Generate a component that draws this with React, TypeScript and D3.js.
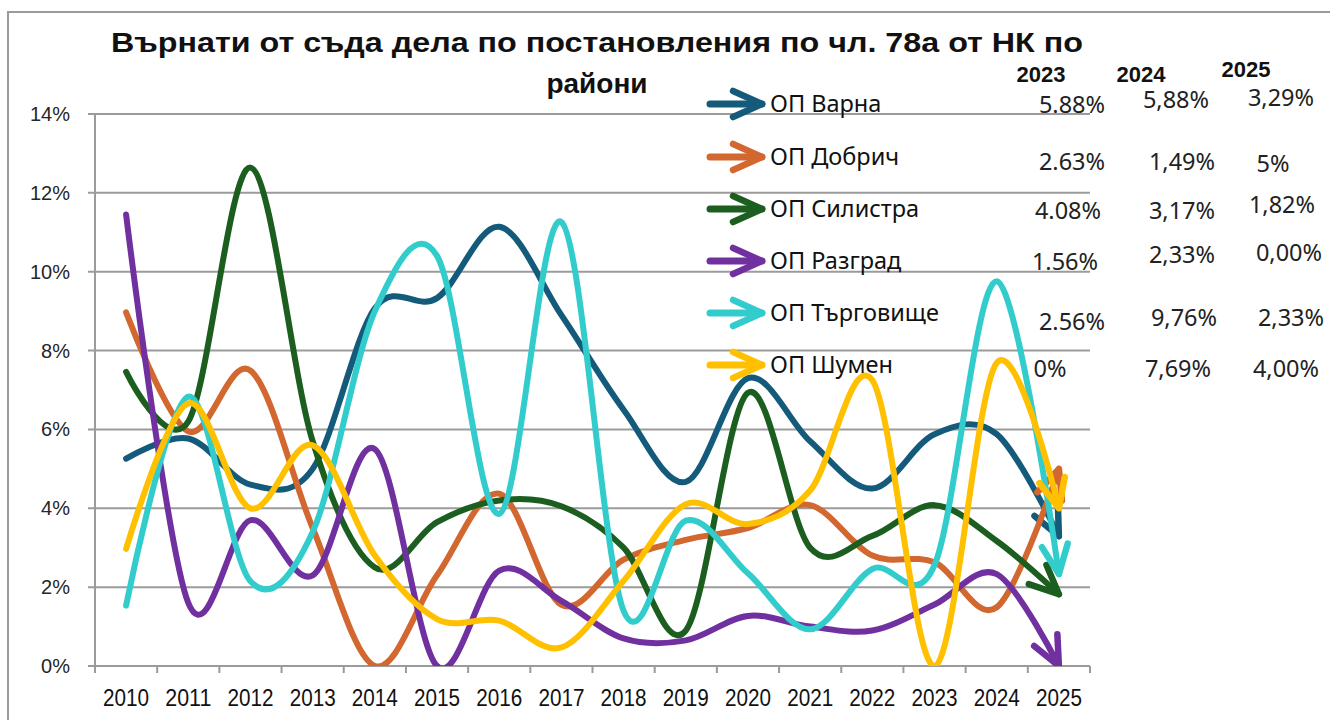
import React, { useEffect, useRef } from 'react';
import * as d3 from 'd3';

// годините по оста X
const years = ['2010', '2011', '2012', '2013', '2014', '2015', '2016', '2017', '2018', '2019', '2020', '2021', '2022', '2023', '2024', '2025'];

const seriesNames = ['ОП Варна', 'ОП Добрич', 'ОП Силистра', 'ОП Разград', 'ОП Търговище', 'ОП Шумен'];
const seriesColors = ['#145A7A', '#D2672F', '#1B5E20', '#7030A0', '#33CCCC', '#FFC000'];

// стойности в %
const varna = [5.26, 5.77, 4.6, 5.0, 9.07, 9.33, 11.14, 8.9, 6.5, 4.67, 7.3, 5.7, 4.5, 5.88, 5.88, 3.29];
const dobrich = [8.97, 5.95, 7.49, 3.5, 0, 2.3, 4.37, 1.55, 2.7, 3.2, 3.5, 4.08, 2.8, 2.63, 1.49, 5];
const silistra = [7.46, 6.2, 12.64, 5.7, 2.5, 3.65, 4.2, 4.05, 3.0, 0.9, 6.93, 3.0, 3.3, 4.08, 3.17, 1.82];
const razgrad = [11.45, 1.6, 3.7, 2.3, 5.5, 0, 2.42, 1.65, 0.7, 0.65, 1.27, 1.0, 0.9, 1.56, 2.33, 0];
const targovishte = [1.53, 6.83, 2.15, 3.4, 9.0, 10.4, 3.86, 11.26, 1.4, 3.69, 2.35, 0.93, 2.46, 2.56, 9.76, 2.33];
const shumen = [2.97, 6.66, 4.0, 5.6, 2.8, 1.19, 1.15, 0.47, 2.16, 4.1, 3.6, 4.45, 7.25, 0, 7.69, 4.0];

const yTicks = [0, 2, 4, 6, 8, 10, 12, 14];

// таблицата вдясно
const tableYears = ['2023', '2024', '2025'];
const tableRows = [
  ['5.88%', '5,88%', '3,29%'],
  ['2.63%', '1,49%', '5%'],
  ['4.08%', '3,17%', '1,82%'],
  ['1.56%', '2,33%', '0,00%'],
  ['2.56%', '9,76%', '2,33%'],
  ['0%', '7,69%', '4,00%'],
];

const title1 = 'Върнати от съда дела по постановления по чл. 78а от НК по';
const title2 = 'райони';

export default function App() {
  const svgRef = useRef<SVGSVGElement>(null);

  useEffect(() => {
    const svg = d3.select(svgRef.current);
    svg.selectAll('*').remove();

    const series = [varna, dobrich, silistra, razgrad, targovishte, shumen];
    const left = 95, right = 1090, top = 114, bottom = 666;

    const x = d3.scaleBand().domain(years).range([left, right]);
    const cx = (yr: string) => (x(yr) as number) + x.bandwidth() / 2;
    const y = d3.scaleLinear().domain([0, 14]).range([bottom, top]);

    const defs = svg.append('defs');
    defs.append('clipPath').attr('id', 'plotclip')
      .append('rect').attr('x', left).attr('y', 90).attr('width', right - left).attr('height', bottom - 90);

    // отворена стрелка в края на всяка линия
    seriesColors.forEach((c, i) => {
      defs.append('marker')
        .attr('id', 'arr' + i)
        .attr('markerUnits', 'userSpaceOnUse')
        .attr('viewBox', '-36 -20 42 40')
        .attr('markerWidth', 42).attr('markerHeight', 40)
        .attr('refX', 0).attr('refY', 0)
        .attr('orient', 'auto')
        .append('path')
        .attr('d', 'M-29,-13L0,0L-29,13')
        .attr('fill', 'none').attr('stroke', c).attr('stroke-width', 6.5)
        .attr('stroke-linecap', 'round').attr('stroke-linejoin', 'round');
    });

    // рамка
    svg.append('rect').attr('x', 8).attr('y', 12).attr('width', 1340).attr('height', 730)
      .attr('fill', 'none').attr('stroke', '#9a9a9a').attr('stroke-width', 2);

    // мрежа
    svg.append('g').selectAll('line').data(yTicks).enter().append('line')
      .attr('x1', left - 7).attr('x2', right)
      .attr('y1', d => y(d)).attr('y2', d => y(d))
      .attr('stroke', '#9b9b9b').attr('stroke-width', 2);

    svg.append('line').attr('x1', left).attr('x2', left).attr('y1', top).attr('y2', bottom + 7)
      .attr('stroke', '#9b9b9b').attr('stroke-width', 2);

    const bounds = years.map(yr => x(yr) as number).concat([right]);
    svg.append('g').selectAll('line').data(bounds).enter().append('line')
      .attr('x1', d => d).attr('x2', d => d).attr('y1', bottom).attr('y2', bottom + 7)
      .attr('stroke', '#9b9b9b').attr('stroke-width', 2);

    svg.append('g').selectAll('text').data(yTicks).enter().append('text')
      .attr('x', 70).attr('y', d => y(d) + 7)
      .attr('text-anchor', 'end')
      .attr('font-family', 'Liberation Sans, Arial, sans-serif').attr('font-size', 20)
      .attr('fill', '#262626')
      .text(d => d + '%');

    svg.append('g').selectAll('text').data(years).enter().append('text')
      .attr('x', d => cx(d)).attr('y', 706)
      .attr('text-anchor', 'middle')
      .attr('font-family', 'Liberation Sans, Arial, sans-serif').attr('font-size', 23)
      .attr('textLength', 46).attr('lengthAdjust', 'spacingAndGlyphs')
      .attr('fill', '#111')
      .text(d => d);

    // линиите
    const line = d3.line<number>()
      .x((_, i) => cx(years[i]))
      .y(d => y(d))
      .curve(d3.curveCatmullRom.alpha(0));

    const lg = svg.append('g').attr('clip-path', 'url(#plotclip)');
    series.forEach((s, i) => {
      lg.append('path')
        .attr('d', line(s) as string)
        .attr('fill', 'none')
        .attr('stroke', seriesColors[i])
        .attr('stroke-width', 6)
        .attr('stroke-linecap', 'round')
        .attr('marker-end', `url(#arr${i})`);
    });

    // заглавие
    svg.append('text').attr('x', 597).attr('y', 52).attr('text-anchor', 'middle')
      .attr('font-family', 'Liberation Sans, Arial, sans-serif').attr('font-weight', 'bold')
      .attr('font-size', 28).attr('textLength', 972).attr('lengthAdjust', 'spacingAndGlyphs')
      .attr('fill', '#111').text(title1);
    svg.append('text').attr('x', 597).attr('y', 93).attr('text-anchor', 'middle')
      .attr('font-family', 'Liberation Sans, Arial, sans-serif').attr('font-weight', 'bold')
      .attr('font-size', 28).attr('fill', '#111').text(title2);

    // легенда
    const legY = [104, 157, 209, 261, 313, 365];
    seriesNames.forEach((n, i) => {
      svg.append('path')
        .attr('d', `M710,${legY[i]}L762,${legY[i]}`)
        .attr('stroke', seriesColors[i]).attr('stroke-width', 7)
        .attr('stroke-linecap', 'round').attr('fill', 'none')
        .attr('marker-end', `url(#arr${i})`);
      svg.append('text').attr('x', 770).attr('y', legY[i] + 8)
        .attr('font-family', 'Noto Sans, sans-serif').attr('font-size', 23.5)
        .attr('fill', '#111').text(n);
    });

    // таблица
    const headPos = [[1041, 82], [1141, 82], [1246, 77]];
    tableYears.forEach((t, j) => {
      svg.append('text').attr('x', headPos[j][0]).attr('y', headPos[j][1])
        .attr('text-anchor', 'middle')
        .attr('font-family', 'Liberation Sans, Arial, sans-serif').attr('font-weight', 'bold')
        .attr('font-size', 22).attr('fill', '#111').text(t);
    });
    const cellPos = [
      [[1072, 113], [1176, 108], [1281, 106]],
      [[1072, 170], [1182, 170], [1273, 172]],
      [[1068, 219], [1182, 219], [1282, 213]],
      [[1065, 270], [1182, 263], [1289, 261]],
      [[1072, 330], [1184, 326], [1291, 326]],
      [[1050, 377], [1178, 377], [1286, 377]],
    ];
    tableRows.forEach((row, i) => {
      row.forEach((v, j) => {
        svg.append('text').attr('x', cellPos[i][j][0]).attr('y', cellPos[i][j][1])
          .attr('text-anchor', 'middle')
          .attr('font-family', 'Noto Sans, sans-serif').attr('font-size', 23.5)
          .attr('fill', '#222').text(v);
      });
    });
  }, []);

  return (
    <svg ref={svgRef} width={1330} height={720}
      style={{ position: 'absolute', left: 0, top: 0, background: '#fff' }} />
  );
}
